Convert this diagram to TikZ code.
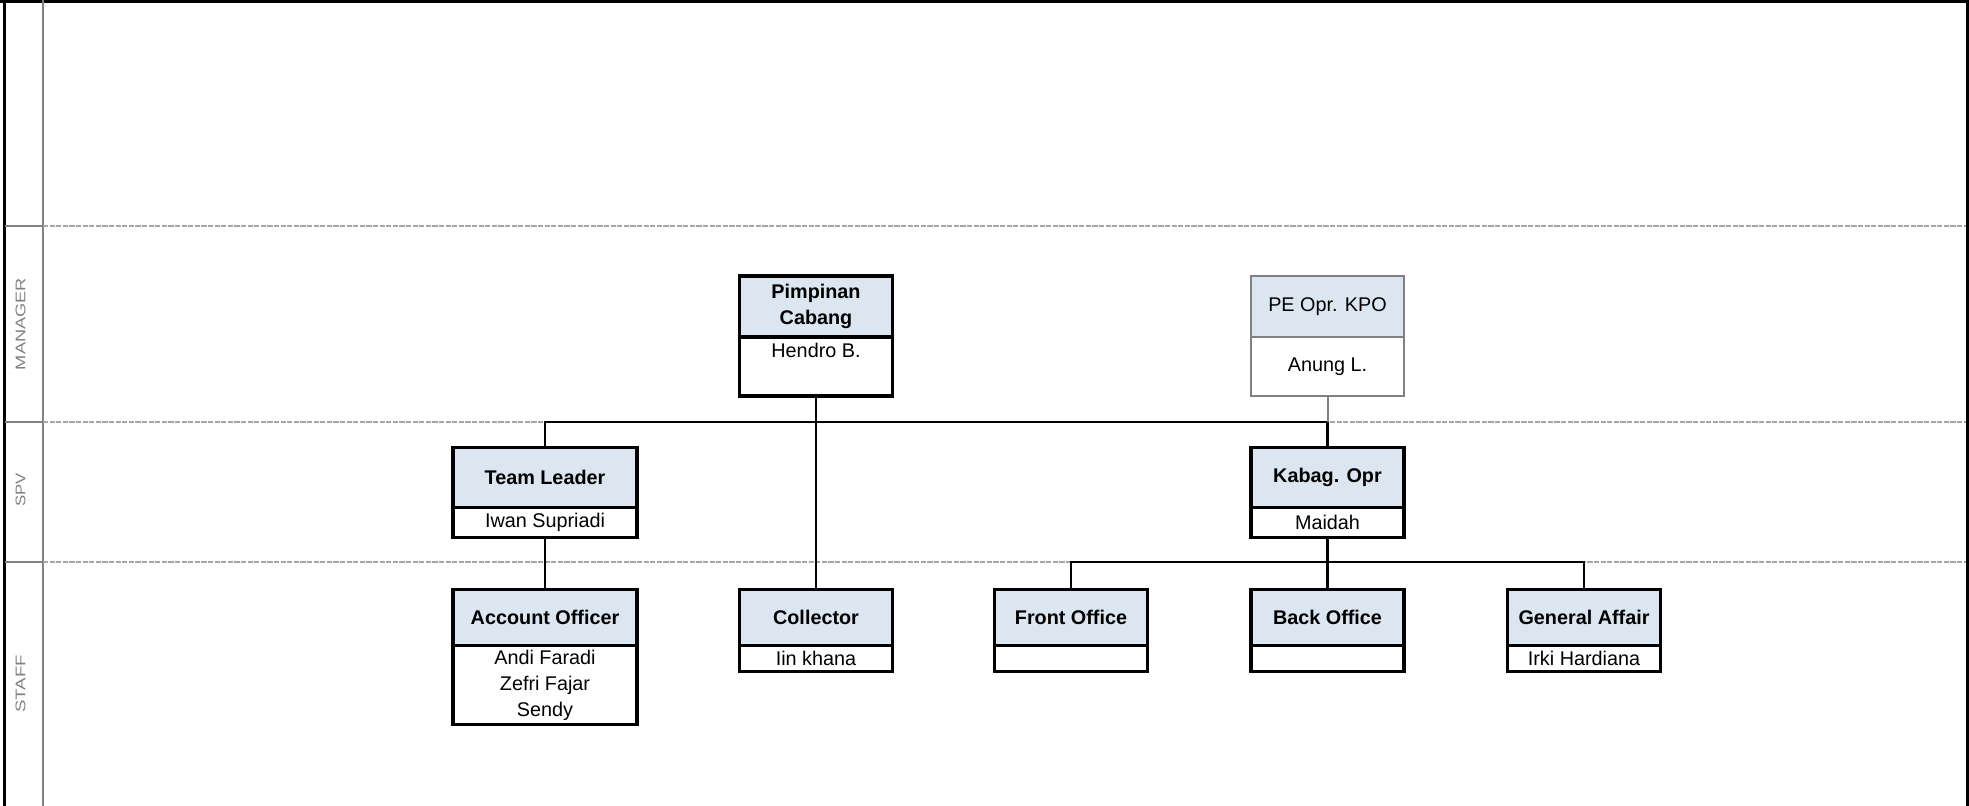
\documentclass[tikz,border=0pt]{standalone}
\usepackage{fontspec}
\setmainfont{Liberation Sans}
\usepackage{graphicx}
\usepackage{xcolor}
\usetikzlibrary{positioning}
\definecolor{headblue}{HTML}{DCE6F1}
\definecolor{lanegray}{HTML}{808080}
\definecolor{dotgray}{HTML}{A6A6A6}

\begin{document}
\begin{tikzpicture}[x=0.5pt,y=-0.5pt,
    box/.style={draw, line width=1.65pt, inner sep=0pt, outer sep=0pt, align=center,
      minimum width=76.5pt, font=\fontsize{9.9}{12.8}\selectfont},
    head/.style={box, fill=headblue, font=\fontsize{9.9}{12.8}\selectfont\bfseries},
    who/.style={box, fill=white},
    graybox/.style={draw=lanegray, line width=1pt, font=\fontsize{9.9}{12.8}\selectfont},
    conn/.style={line width=1.35pt},
    lanelabel/.style={rotate=90, text=lanegray, font=\fontsize{7}{8}\selectfont}]
    \useasboundingbox (0,0) rectangle (1969,806);
    % lanes
    \draw[line width=1.75pt] (0,1.75) -- (1969,1.75);
    \draw[line width=1.35pt] (4.7,0) -- (4.7,806);
    \draw[line width=1.35pt] (1967.6,0) -- (1967.6,806);
    \draw[lanegray, line width=1pt] (43,0) -- (43,806);
    \foreach \y in {226,422,562} {
      \draw[lanegray, line width=1pt] (4.7,\y) -- (43,\y);
      \draw[dotgray, line width=0.55pt, dash pattern=on 2.6pt off 0.7pt] (43,\y) -- (1966,\y);
    }
    \coordinate (spvline) at (43,422);
    \coordinate (staffline) at (43,562);
    \node[lanelabel] (mgrlabel) at (20.5,324) {\scalebox{1.3}[1]{MANAGER}};
    \node[lanelabel] (spvlabel) at (20.5,490) {\scalebox{1.2}[1]{SPV}};
    \node[lanelabel] (stafflabel) at (20.5,684) {\scalebox{1.33}[1]{STAFF}};

    % manager
    \node[head, anchor=north, minimum height=30.5pt] (pc) at (816,276) {Pimpinan\\Cabang};
    \node[who, below=0pt of pc, minimum height=29.5pt] (pcname) {Hendro B.\\\strut};
    \node[head, graybox, anchor=north, minimum height=30.5pt] (pe) at (1327.5,276) {PE Opr. KPO};
    \node[who, graybox, below=0pt of pe, minimum height=29.5pt] (pename) {Anung L.};

    % spv
    \node[head, anchor=north, minimum width=92pt, minimum height=30pt] (tl) at (545,447.5) {Team Leader};
    \node[who, below=0pt of tl, minimum width=92pt, minimum height=15pt] (tlname) {Iwan Supriadi};
    \node[head, anchor=north, minimum height=30pt] (kb) at (1327.5,447.5) {Kabag. Opr};
    \node[who, below=0pt of kb, minimum height=15pt] (kbname) {Maidah};

    % staff
    \node[head, anchor=north, minimum width=92pt, minimum height=28pt] (ao) at (545,589.8) {Account Officer};
    \node[who, below=0pt of ao, minimum width=92pt, minimum height=39.5pt] (aoname) {Andi Faradi\\Zefri Fajar\\Sendy};
    \node[head, anchor=north, minimum height=28pt] (col) at (816,589.8) {Collector};
    \node[who, below=0pt of col, minimum height=13pt] (colname) {Iin khana};
    \node[head, anchor=north, minimum height=28pt] (fo) at (1071,589.8) {Front Office};
    \node[who, below=0pt of fo, minimum height=13pt] (foname) {};
    \node[head, anchor=north, minimum height=28pt] (bo) at (1327.5,589.8) {Back Office};
    \node[who, below=0pt of bo, minimum height=13pt] (boname) {};
    \node[head, anchor=north, minimum height=28pt] (ga) at (1584,589.8) {General Affair};
    \node[who, below=0pt of ga, minimum height=13pt] (ganame) {Irki Hardiana};

    % connectors
    \draw[conn] (pcname.south) -- (col.north);
    \draw[conn] (tl.north) -- (tl.north |- spvline) -- (kb.north |- spvline) -- (kb.north);
    \draw[lanegray, line width=1pt] (pename.south) -- (pename.south |- spvline);
    \draw[conn] (tlname.south) -- (ao.north);
    \draw[conn] (kbname.south) -- (bo.north);
    \draw[conn] (fo.north) -- (fo.north |- staffline) -- (ga.north |- staffline) -- (ga.north);
\end{tikzpicture}
\end{document}
